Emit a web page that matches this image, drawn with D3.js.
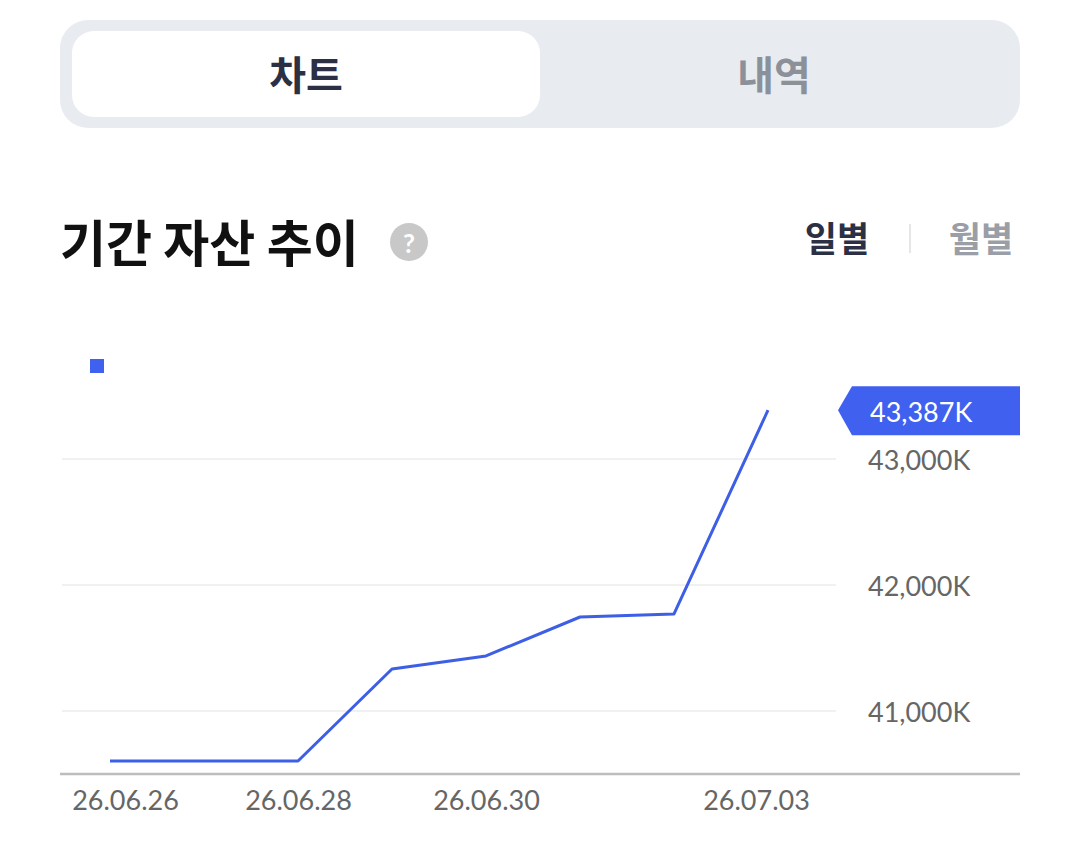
<!DOCTYPE html>
<html><head><meta charset="utf-8">
<script src="https://cdn.jsdelivr.net/npm/d3@7/dist/d3.min.js"></script>
<style>
html,body{margin:0;padding:0;background:#fff;}
svg{display:block;}
</style></head>
<body>
<svg id="c" width="1080" height="848"></svg>
<script>
const dates = ["26.06.26","26.06.27","26.06.28","26.06.29","26.06.30","26.07.01","26.07.02","26.07.03"];
const values = [40603, 40603, 40603, 41333, 41437, 41746, 41770, 43387];
const yTicks = [41000, 42000, 43000];
const xTickLabels = ["26.06.26","26.06.28","26.06.30","26.07.03"];
const tabs = ["차트","내역"];
const periods = ["일별","월별"];
const title = "기간 자산 추이";

const svg = d3.select("#c");
const KR = "'Noto Sans CJK KR','Noto Sans',sans-serif";
const NUM = "Lato,'Noto Sans',sans-serif";

// Tabs
svg.append("rect").attr("x",60).attr("y",20).attr("width",960).attr("height",108).attr("rx",28).attr("fill","#e8ebf0");
svg.append("rect").attr("x",72).attr("y",31).attr("width",468).attr("height",86).attr("rx",22).attr("fill","#fff");
svg.append("text").attr("x",306).attr("y",73).attr("text-anchor","middle").attr("dominant-baseline","central")
  .attr("font-family",KR).attr("font-weight",700).attr("font-size",40).attr("fill","#2b3044").text(tabs[0]);
svg.append("text").attr("x",774).attr("y",73).attr("text-anchor","middle").attr("dominant-baseline","central")
  .attr("font-family",KR).attr("font-weight",700).attr("font-size",40).attr("fill","#8b9099").text(tabs[1]);

// Title
svg.append("text").attr("x",60).attr("y",240).attr("dominant-baseline","central")
  .attr("font-family",KR).attr("font-weight",700).attr("font-size",50).attr("fill","#111").text(title);
svg.append("circle").attr("cx",409).attr("cy",242).attr("r",19).attr("fill","#c8c8c8");
svg.append("text").attr("x",409).attr("y",243).attr("text-anchor","middle").attr("dominant-baseline","central")
  .attr("font-family",NUM).attr("font-weight",700).attr("font-size",26).attr("fill","#fff").text("?");

svg.append("text").attr("x",837).attr("y",236).attr("text-anchor","middle").attr("dominant-baseline","central")
  .attr("font-family",KR).attr("font-weight",700).attr("font-size",35).attr("fill","#2b3044").text(periods[0]);
svg.append("line").attr("x1",910).attr("x2",910).attr("y1",224).attr("y2",253).attr("stroke","#e6e6e6").attr("stroke-width",2);
svg.append("text").attr("x",981).attr("y",236).attr("text-anchor","middle").attr("dominant-baseline","central")
  .attr("font-family",KR).attr("font-weight",700).attr("font-size",35).attr("fill","#9a9ea6").text(periods[1]);

// Legend square
svg.append("rect").attr("x",90).attr("y",359).attr("width",14).attr("height",14).attr("fill","#4060f0");

// Scales
const x = d3.scalePoint().domain(dates).range([110,768]);
const y = d3.scaleLinear().domain([41000,43000]).range([711,459]);

// Gridlines
svg.append("g").selectAll("line").data(yTicks).join("line")
  .attr("x1",62).attr("x2",836).attr("y1",d=>y(d)).attr("y2",d=>y(d))
  .attr("stroke","#ececec").attr("stroke-width",1.5);

// Y axis labels
const yAxis = d3.axisRight(y).tickValues(yTicks).tickSize(0).tickPadding(0)
  .tickFormat(d=>d3.format(",")(d)+"K");
const gy = svg.append("g").attr("transform","translate(868,0)").call(yAxis);
gy.select(".domain").remove();
gy.selectAll("text").attr("font-family",NUM).attr("font-size",27).attr("fill","#666").attr("dy","0.4em");

// Baseline
svg.append("line").attr("x1",60).attr("x2",1020).attr("y1",774).attr("y2",774).attr("stroke","#bdbdbd").attr("stroke-width",2.5);

// X axis labels
const xAxis = d3.axisBottom(x).tickValues(xTickLabels).tickSize(0).tickPadding(0);
const gx = svg.append("g").attr("transform","translate(0,801)").call(xAxis);
gx.select(".domain").remove();
gx.selectAll("text").attr("font-family",NUM).attr("font-size",27).attr("fill","#666").attr("dy","0.35em")
  .attr("dx",(d,i)=> i===0 ? 15 : (i===xTickLabels.length-1 ? -12 : 0));

// Line
const line = d3.line().x((d,i)=>x(dates[i])).y(d=>y(d));
svg.append("path").datum(values).attr("d",line).attr("fill","none")
  .attr("stroke","#3d5fe6").attr("stroke-width",3).attr("stroke-linejoin","round");

// Last value tag
const last = values[values.length-1];
const ty = y(last);
const tx = 838;
svg.append("path")
  .attr("d",`M${tx},${ty} L${tx+14},${ty-24} L1020,${ty-24} L1020,${ty+25} L${tx+14},${ty+25} Z`)
  .attr("fill","#4060f0");
svg.append("text").attr("x",870).attr("y",ty+1).attr("dominant-baseline","central")
  .attr("font-family",NUM).attr("font-size",27).attr("fill","#fff").text(d3.format(",")(last)+"K");
</script>
</body></html>
